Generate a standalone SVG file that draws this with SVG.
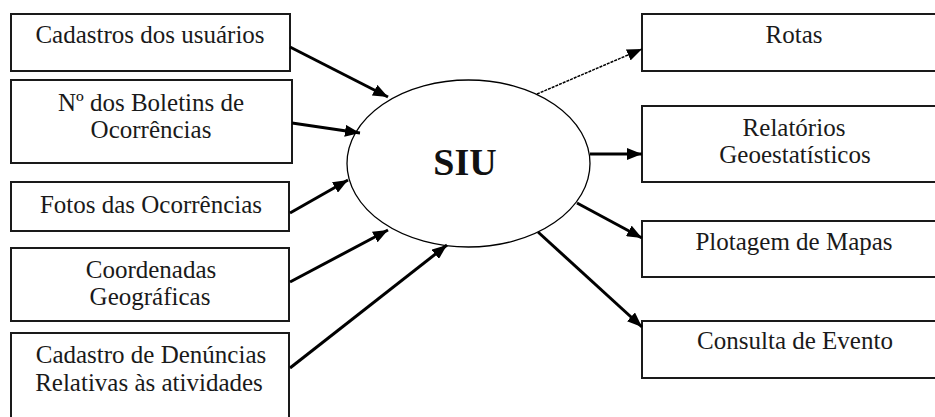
<svg xmlns="http://www.w3.org/2000/svg" width="935" height="417" viewBox="0 0 935 417">
<style>
.box{fill:#fff;stroke:#1a1a1a;stroke-width:2}
.t{font-size:25px;fill:#1a1a1a;text-anchor:middle}
.ar{fill:none;stroke:#000;stroke-width:3;marker-end:url(#ah)}
.thin{fill:none;stroke:#000;stroke-width:1.5;stroke-dasharray:3 1;marker-end:url(#ah)}
</style>
<defs>
<marker id="ah" markerUnits="userSpaceOnUse" markerWidth="16" markerHeight="12" refX="15" refY="6" orient="auto">
<path d="M0,0 L15,6 L0,12 z" fill="#000"/>
</marker>
</defs>
<rect width="935" height="417" fill="#fff"/>
<g font-family="'Liberation Serif', 'Times New Roman', serif">
<g id="n-cadastros">
<rect class="box" x="11" y="14" width="279" height="57"/>
<text class="t" x="150" y="43">Cadastros dos usuários</text>
</g>
<g id="n-boletins">
<rect class="box" x="11" y="80" width="281" height="83"/>
<text class="t" x="151" y="111">Nº dos Boletins de</text>
<text class="t" x="151" y="138">Ocorrências</text>
</g>
<g id="n-fotos">
<rect class="box" x="11" y="182" width="278" height="49"/>
<text class="t" x="151" y="213">Fotos das Ocorrências</text>
</g>
<g id="n-coordenadas">
<rect class="box" x="11" y="248" width="278" height="73"/>
<text class="t" x="151" y="278">Coordenadas</text>
<text class="t" x="150" y="305">Geográficas</text>
</g>
<g id="n-denuncias">
<rect class="box" x="11" y="333" width="278" height="100"/>
<text class="t" x="151" y="363">Cadastro de Denúncias</text>
<text class="t" x="149" y="391">Relativas às atividades</text>
</g>
<g id="n-siu">
<ellipse cx="468.5" cy="163.5" rx="121.5" ry="83.5" fill="#fff" stroke="#000" stroke-width="1.3"/>
<text x="465" y="175" font-size="38" font-weight="bold" text-anchor="middle" fill="#111">SIU</text>
</g>
<g id="n-rotas">
<rect class="box" x="642" y="14" width="304" height="57"/>
<text class="t" x="794" y="43">Rotas</text>
</g>
<g id="n-relatorios">
<rect class="box" x="642" y="106" width="304" height="76"/>
<text class="t" x="794" y="136">Relatórios</text>
<text class="t" x="795" y="163">Geoestatísticos</text>
</g>
<g id="n-plotagem">
<rect class="box" x="642" y="221" width="304" height="56"/>
<text class="t" x="794" y="250">Plotagem de Mapas</text>
</g>
<g id="n-consulta">
<rect class="box" x="642" y="321" width="304" height="57"/>
<text class="t" x="795" y="349">Consulta de Evento</text>
</g>
</g>
<g id="connectors">
<path class="ar" d="M290,47 L388,97"/>
<path class="ar" d="M292,123 L360,133"/>
<path class="ar" d="M290,213 L348,180"/>
<path class="ar" d="M290,282 L388,230"/>
<path class="ar" d="M290,368 L447,245"/>
<path class="thin" d="M537,94 L642,49"/>
<path class="ar" d="M590,154 L642,154"/>
<path class="ar" d="M577,203 L642,238"/>
<path class="ar" d="M538,232 L642,327"/>
</g>
</svg>
